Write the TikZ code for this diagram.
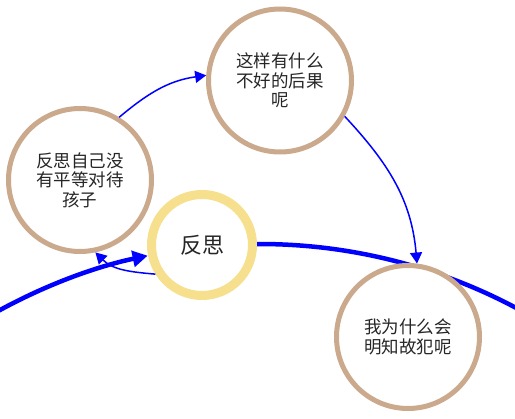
\documentclass[tikz,border=0pt]{standalone}
\usepackage{fontspec}
\setmainfont{Noto Sans CJK SC}
\usetikzlibrary{arrows.meta}
\definecolor{tanc}{RGB}{203,169,140}
\definecolor{yelc}{RGB}{246,224,141}
\definecolor{blu}{RGB}{0,0,255}
\begin{document}
\begin{tikzpicture}[x=1pt,y=1pt,
  thought/.style={circle,draw=tanc,line width=5pt,fill=white,minimum size=143pt,inner sep=0pt,align=center,font=\fontsize{17.5}{19.5}\selectfont,text=black!85},
  core/.style={circle,draw=yelc,line width=9pt,fill=white,minimum size=101pt,inner sep=0pt,font=\fontsize{22}{26}\selectfont,text=black!85},
  bigline/.style={draw=blu,line width=4.5pt},
  thin/.style={draw=blu,line width=1.5pt,-{Triangle[length=11pt,width=12pt]}}
]
\useasboundingbox (0,0) rectangle (515,-419);
\coordinate (bc) at (260,-789);
\path (bc) ++(120:545) coordinate (arcL);
\path (bc) ++(90.3:545) coordinate (arcR);
\draw[bigline,-{Triangle[length=15pt,width=16pt]}] (arcL) arc[start angle=120,end angle=101.9,radius=545];
\draw[bigline] (arcR) arc[start angle=90.3,end angle=58,radius=545];
\node[thought] (top) at (280,-80.5) {这样有什么\\不好的后果\\呢};
\node[thought] (left) at (80,-180) {反思自己没\\有平等对待\\孩子};
\node[thought] (bot) at (408,-337) {我为什么会\\明知故犯呢};
\node[core] (core) at (202,-245) {反思};
\draw[thin] (left.58) to[out=40,in=188] (top.176);
\draw[thin] (top.-29) to[out=-47,in=95] (bot.83);
\draw[thin] (core.212) to[out=175,in=-45] (left.-78);
\end{tikzpicture}
\end{document}
